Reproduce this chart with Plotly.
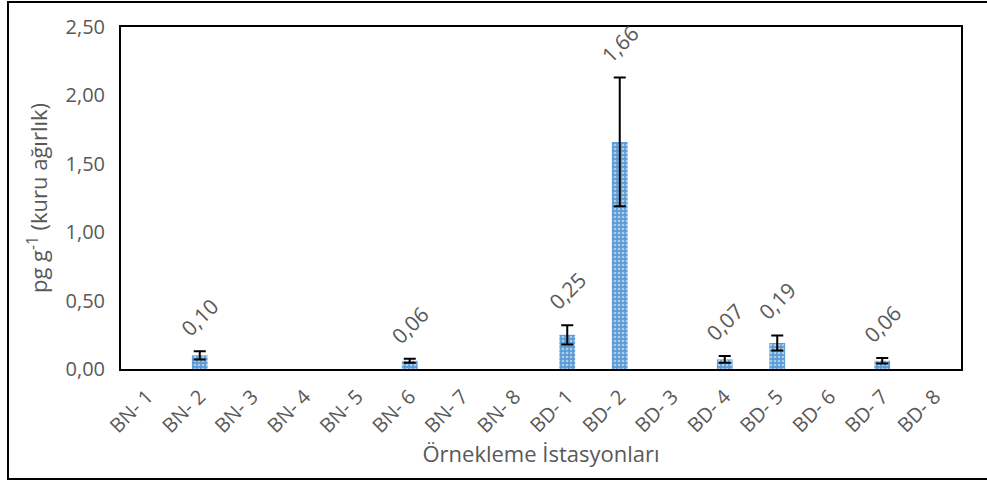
import plotly.graph_objects as go

categories = ["BN- 1", "BN- 2", "BN- 3", "BN- 4", "BN- 5", "BN- 6", "BN- 7", "BN- 8",
              "BD- 1", "BD- 2", "BD- 3", "BD- 4", "BD- 5", "BD- 6", "BD- 7", "BD- 8"]
values = [None, 0.10, None, None, None, 0.06, None, None,
          0.25, 1.66, None, 0.07, 0.19, None, 0.06, None]
errors = [None, 0.03, None, None, None, 0.015, None, None,
          0.07, 0.47, None, 0.025, 0.055, None, 0.02, None]
labels = ["", "0,10", "", "", "", "0,06", "", "",
          "0,25", "1,66", "", "0,07", "0,19", "", "0,06", ""]
y_ticks = [0, 0.5, 1.0, 1.5, 2.0, 2.5]
y_ticktext = ["0,00", "0,50", "1,00", "1,50", "2,00", "2,50"]

FONT = "Open Sans"
GRAY = "#595959"

fig = go.Figure()
fig.add_trace(go.Bar(
    x=categories, y=values,
    marker=dict(color="#5B9BD5", line=dict(width=0),
                pattern=dict(shape=".", fgcolor="white", bgcolor="#5B9BD5",
                             size=4, solidity=0.35, fillmode="overlay")),
    error_y=dict(type="data", array=errors, visible=True, color="black",
                 thickness=2, width=6),
    hoverinfo="skip",
))

annotations = []
for c, v, e, t in zip(categories, values, errors, labels):
    if t:
        annotations.append(dict(x=c, y=v + e, text=t, showarrow=False,
                                textangle=-45, yshift=34, xanchor="center",
                                yanchor="middle",
                                font=dict(family=FONT, size=21, color=GRAY)))

W, H = 987, 482
L, R, T, B = 121, 961, 27, 369
def px_to_paper_x(px):
    return (px - L) / (R - L)
def px_to_paper_y(py):
    return (B - py) / (B - T)

shapes = [dict(type="rect", xref="paper", yref="paper",
               x0=px_to_paper_x(8), x1=px_to_paper_x(995),
               y0=px_to_paper_y(479), y1=px_to_paper_y(2),
               line=dict(color="black", width=2), layer="below")]

fig.update_layout(
    width=W, height=H,
    margin=dict(l=L, r=W - R, t=T, b=H - B),
    paper_bgcolor="white", plot_bgcolor="white",
    showlegend=False,
    bargap=0.7,
    annotations=annotations,
    shapes=shapes,
    font=dict(family=FONT, color=GRAY, size=20),
    xaxis=dict(
        tickangle=-45, showline=True, linecolor="black", linewidth=2, mirror=True,
        showgrid=False, ticks="", ticklabelstandoff=6,
        tickfont=dict(family=FONT, size=20, color=GRAY),
        title=dict(text="Örnekleme İstasyonları", standoff=2,
                   font=dict(family=FONT, size=22, color=GRAY)),
    ),
    yaxis=dict(
        range=[0, 2.5], tickvals=y_ticks, ticktext=y_ticktext,
        showline=True, linecolor="black", linewidth=2, mirror=True,
        showgrid=False, zeroline=False, ticks="", ticklabelstandoff=10,
        tickfont=dict(family=FONT, size=20, color=GRAY),
        title=dict(text="pg g<sup>-1</sup> (kuru ağırlık)", standoff=12,
                   font=dict(family=FONT, size=22, color=GRAY)),
    ),
)

fig.write_html("out.html", config={"displayModeBar": False},
               post_script="document.body.style.margin='0';")
